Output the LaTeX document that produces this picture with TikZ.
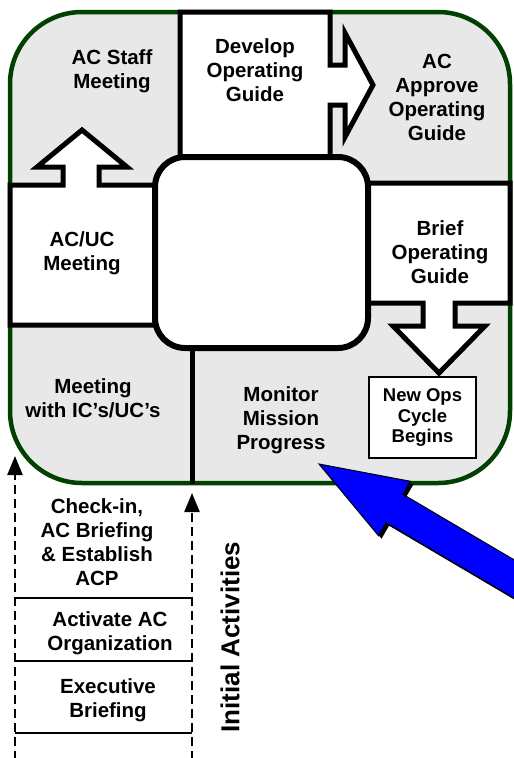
\documentclass[tikz,border=0pt]{standalone}
\usepackage{fontspec}
\setmainfont{Liberation Sans}
\usetikzlibrary{arrows.meta}
\definecolor{boardgreen}{RGB}{0,64,0}
\definecolor{panelgray}{RGB}{232,232,232}
\definecolor{arrowblue}{RGB}{0,0,255}
\begin{document}
\begin{tikzpicture}[x=1pt,y=-1pt,
  lbl/.style={align=center, inner sep=0pt, font=\fontsize{20.5}{24}\selectfont\bfseries},
  smalllbl/.style={align=center, inner sep=0pt, font=\fontsize{18.5}{20.5}\selectfont\bfseries},
  bigbox/.style={draw=black, line width=5pt, fill=white, line join=miter},
  dasharrow/.style={line width=2.4pt, dash pattern=on 9pt off 5pt, -{Triangle[length=19pt,width=15pt]}},
  divider/.style={line width=1.8pt}]
\useasboundingbox (0,0) rectangle (514,758);
\clip (0,0) rectangle (514,758);
% outer board
\draw[draw=boardgreen, fill=panelgray, line width=4.5pt, rounded corners=72pt] (10,12) rectangle (510,483);
% develop box with right arrow
\draw[bigbox] (180,12) -- (330,12) -- (330,65) -- (345,65) -- (345,33) -- (373,85) -- (345,137) -- (345,105) -- (330,105) -- (330,157) -- (180,157) -- cycle;
% AC/UC box with up arrow
\draw[bigbox] (10,185) -- (63,185) -- (63,167) -- (37,167) -- (82,130) -- (127,167) -- (99,167) -- (99,185) -- (155,185) -- (155,325) -- (10,325) -- cycle;
% brief box with down arrow
\draw[bigbox] (368,183) -- (510,183) -- (510,303) -- (455,303) -- (455,326) -- (485,326) -- (439,373) -- (393,326) -- (423,326) -- (423,303) -- (368,303) -- cycle;
% centre box
\draw[draw=black, line width=6pt, fill=white, rounded corners=30pt] (155,157) rectangle (368,348);
\coordinate (cbot) at (192,348);
\coordinate (bbot) at (192,484);
\draw[line width=5pt] (cbot) -- (bbot);
% new ops box
\node[smalllbl, draw=black, line width=2pt, fill=white, minimum width=107pt, minimum height=81pt] (newops) at (422.5,417.5) {New Ops\\Cycle\\Begins};
% labels
\node[lbl] (staff) at (112,71) {AC Staff\\Meeting};
\node[lbl] (develop) at (255,70) {Develop\\Operating\\Guide};
\node[lbl] (approve) at (437,97) {AC\\Approve\\Operating\\Guide};
\node[lbl] (acuc) at (82,253) {AC/UC\\Meeting};
\node[lbl] (brief) at (440,252) {Brief\\Operating\\Guide};
\node[lbl] (icuc) at (93,398) {Meeting\\with IC’s/UC’s};
\node[lbl] (monitor) at (281,420) {Monitor\\Mission\\Progress};
% initial activities
\node[lbl] (checkin) at (97,542) {Check-in,\\AC Briefing\\\& Establish\\ACP};
\node[lbl] (activate) at (110,633.5) {Activate AC\\Organization};
\node[lbl] (exec) at (108,700) {Executive\\Briefing};
\node[inner sep=0pt, font=\fontsize{26}{30}\selectfont\bfseries, rotate=90] (initial) at (230,637) {Initial Activities};
\coordinate (lbase) at (15,760);
\coordinate (ltip) at (15,456);
\coordinate (rbase) at (192,760);
\coordinate (rtip) at (192,493);
\draw[dasharrow] (lbase) -- (ltip);
\draw[dasharrow] (rbase) -- (rtip);
\coordinate (d1l) at (15,598); \coordinate (d1r) at (192,598);
\coordinate (d2l) at (15,661); \coordinate (d2r) at (192,661);
\coordinate (d3l) at (15,733); \coordinate (d3r) at (192,733);
\draw[divider] (d1l) -- (d1r);
\draw[divider] (d2l) -- (d2r);
\draw[divider] (d3l) -- (d3r);
% blue arrow with shadow
\fill[black, shift={(3,3)}] (319,464) -- (410.5,481.3) -- (402.9,494.3) -- (551.5,581.9) -- (534.7,610.3) -- (386.1,522.7) -- (378.5,535.7) -- cycle;
\draw[draw=black, fill=arrowblue, line width=1pt, line join=miter] (319,464) -- (410.5,481.3) -- (402.9,494.3) -- (551.5,581.9) -- (534.7,610.3) -- (386.1,522.7) -- (378.5,535.7) -- cycle;
\end{tikzpicture}
\end{document}
